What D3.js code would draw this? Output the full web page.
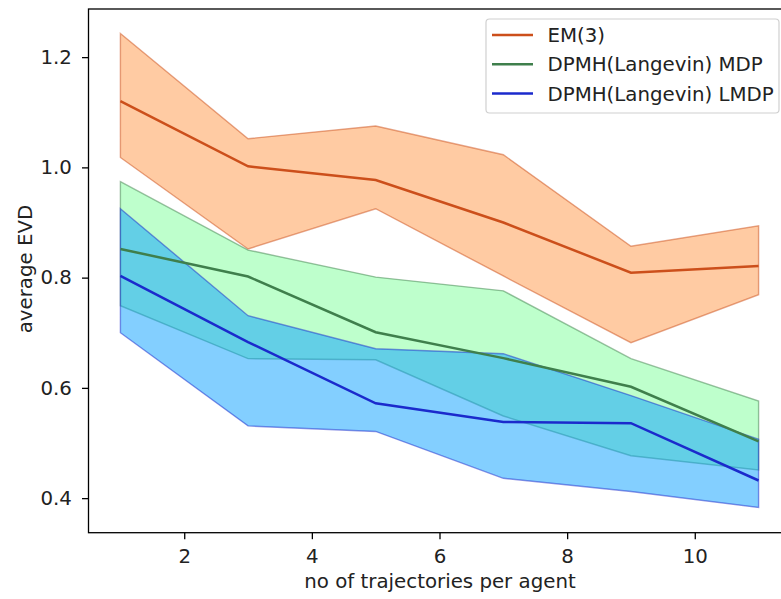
<!DOCTYPE html>
<html>
<head>
<meta charset="utf-8">
<script src="https://cdn.jsdelivr.net/npm/d3@7"></script>
<style>
  body { margin: 0; background: #fff; }
  svg { display: block; font-family: "DejaVu Sans", sans-serif; }
</style>
</head>
<body>
<svg></svg>
<script>
// data
const trajectories = [1, 3, 5, 7, 9, 11];

const emMean  = [1.120, 1.002, 0.977, 0.900, 0.809, 0.821];
const emUpper = [1.243, 1.052, 1.075, 1.023, 0.857, 0.894];
const emLower = [1.018, 0.852, 0.925, 0.803, 0.682, 0.769];

const mdpMean  = [0.852, 0.802, 0.701, 0.654, 0.602, 0.503];
const mdpUpper = [0.974, 0.850, 0.801, 0.776, 0.653, 0.576];
const mdpLower = [0.749, 0.653, 0.651, 0.549, 0.477, 0.451];

const lmdpMean  = [0.803, 0.683, 0.572, 0.538, 0.536, 0.432];
const lmdpUpper = [0.925, 0.731, 0.671, 0.662, 0.586, 0.507];
const lmdpLower = [0.700, 0.531, 0.521, 0.436, 0.412, 0.383];

const seriesNames = ['EM(3)', 'DPMH(Langevin) MDP', 'DPMH(Langevin) LMDP'];
const xTicks = [2, 4, 6, 8, 10];
const yTicks = [0.4, 0.6, 0.8, 1.0, 1.2];

const size = {w: 781, h: 599};
const plot = {l: 88.5, r: 790.5, t: 9, b: 532.7};
const fontSize = '19.8px';
const svg = d3.select('svg').attr('width', size.w).attr('height', size.h);

const series = [
    {name: seriesNames[0], mean: emMean, upper: emUpper, lower: emLower,
     line: '#CC4F1B', face: '#FF9848'},
    {name: seriesNames[1], mean: mdpMean, upper: mdpUpper, lower: mdpLower,
     line: '#3F7F4C', face: '#7EFF99'},
    {name: seriesNames[2], mean: lmdpMean, upper: lmdpUpper, lower: lmdpLower,
     line: '#1B2ACC', face: '#089FFF'}
];

const x = d3.scaleLinear().domain([0.5, 11.5]).range([plot.l, plot.r]);
const y = d3.scaleLinear().domain([0.3373, 1.2873]).range([plot.b, plot.t]);

// bands first, then lines on top
const area = d3.area()
    .x((d, i) => x(trajectories[i]))
    .y0(d => y(d[0]))
    .y1(d => y(d[1]));
const line = d3.line()
    .x((d, i) => x(trajectories[i]))
    .y(d => y(d));

const bandsG = svg.append('g').classed('bands', true);
series.forEach(s => {
    bandsG.append('path')
        .datum(s.lower.map((v, i) => [v, s.upper[i]]))
        .attr('d', area)
        .attr('fill', s.face)
        .attr('fill-opacity', 0.5)
        .attr('stroke', s.line)
        .attr('stroke-opacity', 0.5)
        .attr('stroke-width', 1.4);
});

const linesG = svg.append('g').classed('lines', true);
series.forEach(s => {
    linesG.append('path')
        .datum(s.mean)
        .attr('d', line)
        .attr('fill', 'none')
        .attr('stroke', s.line)
        .attr('stroke-width', 2.5);
});

// axes
const xAxis = svg.append('g')
    .attr('transform', `translate(0,${plot.b})`)
    .call(d3.axisBottom(x).tickValues(xTicks).tickFormat(d3.format('d'))
        .tickSizeInner(6.5).tickSizeOuter(0).tickPadding(9.7));
const yAxis = svg.append('g')
    .attr('transform', `translate(${plot.l},0)`)
    .call(d3.axisLeft(y).tickValues(yTicks).tickFormat(d3.format('.1f'))
        .tickSizeInner(6.5).tickSizeOuter(0).tickPadding(10.1));

[xAxis, yAxis].forEach(g => {
    g.select('.domain').remove();
    g.selectAll('.tick line').attr('stroke', '#000').attr('stroke-width', 1.3);
    g.selectAll('.tick text').attr('fill', '#222')
        .style('font-size', fontSize).style('font-family', '"DejaVu Sans", sans-serif');
});

// frame
svg.append('rect')
    .attr('x', plot.l).attr('y', plot.t)
    .attr('width', plot.r - plot.l).attr('height', plot.b - plot.t)
    .attr('fill', 'none').attr('stroke', '#000').attr('stroke-width', 1.3);

// labels
svg.append('text')
    .attr('x', 440).attr('y', 588)
    .attr('text-anchor', 'middle')
    .style('font-size', fontSize).attr('fill', '#222')
    .text('no of trajectories per agent');
svg.append('text')
    .attr('transform', `translate(31.5,269) rotate(-90)`)
    .attr('text-anchor', 'middle')
    .style('font-size', fontSize).attr('fill', '#222')
    .text('average EVD');

// legend
const legendG = svg.append('g').classed('legend', true);
legendG.append('rect')
    .attr('x', 486).attr('y', 19).attr('width', 293).attr('height', 94)
    .attr('rx', 3.5)
    .attr('fill', '#fff').attr('fill-opacity', 0.8)
    .attr('stroke', '#d0d0d0').attr('stroke-width', 1.2);
series.forEach((s, i) => {
    const cy = 35 + i * 29.2;
    legendG.append('line')
        .attr('x1', 492).attr('x2', 533).attr('y1', cy).attr('y2', cy)
        .attr('stroke', s.line).attr('stroke-width', 2.5);
    legendG.append('text')
        .attr('x', 547.5).attr('y', cy).attr('dy', '0.36em')
        .style('font-size', fontSize).attr('fill', '#222')
        .text(s.name);
});
</script>
</body>
</html>
